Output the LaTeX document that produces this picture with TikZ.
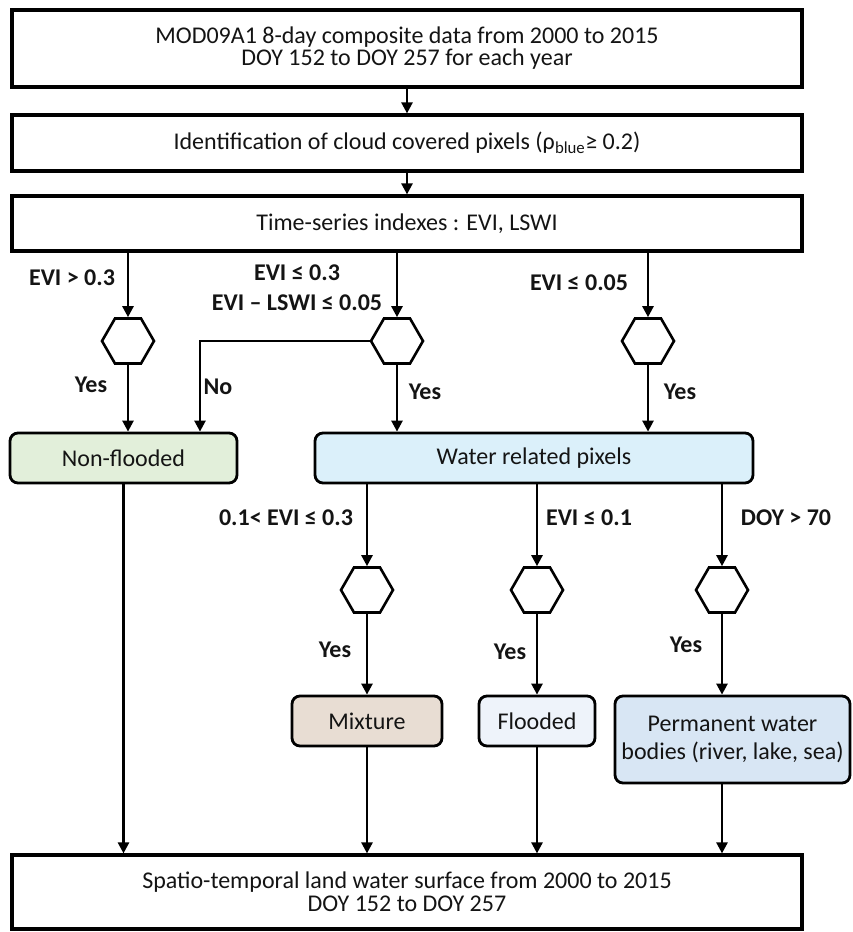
\documentclass[tikz,border=0pt]{standalone}
\usepackage{fontspec}
\setmainfont{Carlito}
\usetikzlibrary{arrows.meta,shapes.geometric,calc}
\newcommand\lesym{\iffontchar\font"2264 \symbol{"2264}\else{\fontspec{DejaVu Sans}\symbol{"2264}}\fi}
\newcommand\gesym{\iffontchar\font"2265 \symbol{"2265}\else{\fontspec{DejaVu Sans}\symbol{"2265}}\fi}
\definecolor{nfgreen}{HTML}{E2EFDA}
\definecolor{wrblue}{HTML}{DBF0FA}
\definecolor{mixtan}{HTML}{E8DDD3}
\definecolor{flblue}{HTML}{EEF3FA}
\definecolor{pmblue}{HTML}{D8E6F4}
\tikzset{
  box/.style={draw, line width=3.2pt, inner sep=0pt, align=center},
  rbox/.style={draw, line width=2.8pt, rounded corners=8pt, inner sep=0pt, align=center},
  hexa/.style={draw, regular polygon, regular polygon sides=6, minimum size=52pt, inner sep=0pt, line width=2.6pt},
  arr/.style={line width=2.5pt, -{Triangle[length=11pt,width=11pt]}},
  lbl/.style={font=\fontsize{24}{30}\selectfont\bfseries, inner sep=0pt, align=center},
}
\begin{document}
\begin{tikzpicture}[x=1pt, y=-1pt, font=\fontsize{24}{22}\selectfont, text=black!92]
\useasboundingbox (0,0) rectangle (852,932);
% main boxes
\node[box, minimum width=790pt, minimum height=77pt] (b1) at (407,48.5)
  {MOD09A1 8-day composite data from 2000 to 2015\\DOY 152 to DOY 257 for each year};
\node[box, minimum width=790pt, minimum height=56pt] (b2) at (407,143)
  {Identification of cloud covered pixels (ρ\textsubscript{blue}\gesym{} 0.2)};
\node[box, minimum width=790pt, minimum height=55pt] (b3) at (407,223.5)
  {Time-series indexes : EVI, LSWI};
% first-level hexagons
\node[hexa] (hA) at (128,341) {};
\node[hexa] (hB) at (397,341) {};
\node[hexa] (hC) at (648,341) {};
% classes
\node[rbox, fill=nfgreen, minimum width=227pt, minimum height=50pt] (nf) at (123.5,458) {Non-flooded};
\node[rbox, fill=wrblue, minimum width=438pt, minimum height=50pt] (wr) at (534,458) {Water related pixels};
% second-level hexagons
\node[hexa] (hD) at (367,590) {};
\node[hexa] (hE) at (537,590) {};
\node[hexa] (hF) at (722,590) {};
\node[rbox, fill=mixtan, minimum width=150pt, minimum height=50pt] (mx) at (367,721) {Mixture};
\node[rbox, fill=flblue, minimum width=116pt, minimum height=50pt] (fl) at (537,721) {Flooded};
\node[rbox, fill=pmblue, minimum width=235pt, minimum height=87pt, font=\fontsize{24}{28}\selectfont] (pm) at (732.5,739.5)
  {Permanent water\\bodies (river, lake, sea)};
\node[box, minimum width=790pt, minimum height=74pt, font=\fontsize{24}{23}\selectfont] (bt) at (407,892)
  {Spatio-temporal land water surface from 2000 to 2015\\DOY 152 to DOY 257};
\coordinate (nocorner) at (200,341);
% connectors
\draw[arr] (b1) -- (b2);
\draw[arr] (b2) -- (b3);
\draw[arr] (b3.south -| hA) -- (hA.north);
\draw[arr] (b3.south -| hB) -- (hB.north);
\draw[arr] (b3.south -| hC) -- (hC.north);
\draw[arr] (hA.south) -- (nf.north -| hA);
\draw[arr] (hB.south) -- (wr.north -| hB);
\draw[arr] (hC.south) -- (wr.north -| hC);
\draw[arr] (hB.west) -- (nocorner) -- (nf.north -| nocorner);
\draw[arr] (wr.south -| hD) -- (hD.north);
\draw[arr] (wr.south -| hE) -- (hE.north);
\draw[arr] (wr.south -| hF) -- (hF.north);
\draw[arr] (hD.south) -- (mx.north);
\draw[arr] (hE.south) -- (fl.north);
\draw[arr] (hF.south) -- (pm.north -| hF);
\draw[arr] (nf.south) -- (bt.north -| nf.south);
\draw[arr] (mx.south) -- (bt.north -| mx.south);
\draw[arr] (fl.south) -- (bt.north -| fl.south);
\draw[arr] (pm.south -| hF) -- (bt.north -| hF);
% labels
\node[lbl] (l1) at (72,278) {EVI > 0.3};
\node[lbl] (l2) at (297,288) {EVI \lesym{} 0.3\\EVI – LSWI \lesym{} 0.05};
\node[lbl] (l3) at (579,283) {EVI \lesym{} 0.05};
\node[lbl] (y1) at (91,385) {Yes};
\node[lbl] (n1) at (218,387) {No};
\node[lbl] (y2) at (425,392) {Yes};
\node[lbl] (y3) at (680,392) {Yes};
\node[lbl] (l4) at (286,518) {0.1< EVI \lesym{} 0.3};
\node[lbl] (l5) at (589,518) {EVI \lesym{} 0.1};
\node[lbl] (l6) at (786,518) {DOY > 70};
\node[lbl] (y4) at (335,650) {Yes};
\node[lbl] (y5) at (510,652) {Yes};
\node[lbl] (y6) at (686,645) {Yes};
\end{tikzpicture}
\end{document}
